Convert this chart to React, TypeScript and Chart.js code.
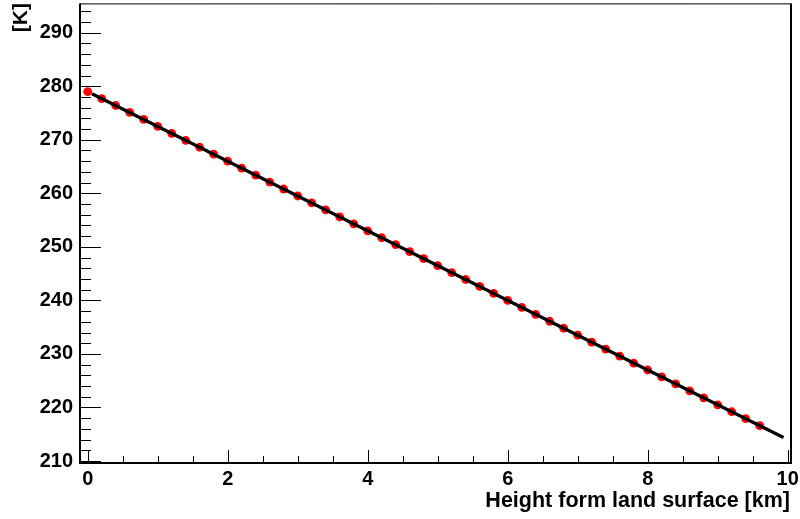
import React, { useEffect, useRef } from "react";
import { Chart, registerables } from "chart.js";

Chart.register(...registerables);

// Measured points: height above land surface [km] and temperature [K]
const heightsKm = [
  0.0, 0.2, 0.4, 0.6, 0.8, 1.0, 1.2, 1.4, 1.6, 1.8,
  2.0, 2.2, 2.4, 2.6, 2.8, 3.0, 3.2, 3.4, 3.6, 3.8,
  4.0, 4.2, 4.4, 4.6, 4.8, 5.0, 5.2, 5.4, 5.6, 5.8,
  6.0, 6.2, 6.4, 6.6, 6.8, 7.0, 7.2, 7.4, 7.6, 7.8,
  8.0, 8.2, 8.4, 8.6, 8.8, 9.0, 9.2, 9.4, 9.6,
];
const temperaturesK = [
  279.0, 277.7, 276.4, 275.1, 273.8, 272.5, 271.2, 269.9, 268.6, 267.3,
  266.0, 264.7, 263.4, 262.1, 260.8, 259.5, 258.2, 256.9, 255.6, 254.3,
  253.0, 251.7, 250.4, 249.1, 247.8, 246.5, 245.2, 243.9, 242.6, 241.3,
  240.0, 238.7, 237.4, 236.1, 234.8, 233.5, 232.2, 230.9, 229.6, 228.3,
  227.0, 225.7, 224.4, 223.1, 221.8, 220.5, 219.2, 217.9, 216.6,
];
// Fitted line end points
const fitHeightsKm = [0.06, 9.94];
const fitTemperaturesK = [278.6, 214.4];

const xTickLabels = [0, 2, 4, 6, 8, 10];
const yTickLabels = [210, 220, 230, 240, 250, 260, 270, 280, 290];

const xTitle = "Height form land surface [km]";
const yTitle = "[K]";

const X_MIN = -0.11;
const X_MAX = 10.047;
const Y_MIN = 209.63;
const Y_MAX = 295.28;

const FONT = "'Liberation Sans', Arial, Helvetica, sans-serif";

const rootFramePlugin = {
  id: "rootFrame",
  afterDraw(chart: any) {
    const { ctx, chartArea } = chart;
    const xs = chart.scales.x;
    const ys = chart.scales.y;
    const { left, right, top, bottom } = chartArea;
    ctx.save();
    ctx.strokeStyle = "#000";
    // ticks
    ctx.lineWidth = 1;
    ctx.beginPath();
    // y major every 10, minor every 2
    for (let v = 210; v <= Y_MAX; v += 2) {
      const p = Math.round(ys.getPixelForValue(v)) + 0.5;
      const len = v % 10 === 0 ? 21 : 11;
      ctx.moveTo(left, p);
      ctx.lineTo(left + len, p);
    }
    // x major every 2, minor every 0.5
    for (let i = 0; i <= 20; i++) {
      const v = i * 0.5;
      const p = Math.round(xs.getPixelForValue(v)) + 0.5;
      const len = i % 4 === 0 ? 13 : 7;
      ctx.moveTo(p, bottom);
      ctx.lineTo(p, bottom - len);
    }
    ctx.stroke();
    // frame
    ctx.lineWidth = 1;
    ctx.beginPath();
    ctx.moveTo(left, top - 0.5);
    ctx.lineTo(right, top - 0.5);
    ctx.stroke();
    ctx.lineWidth = 2;
    ctx.beginPath();
    ctx.moveTo(right, top - 1);
    ctx.lineTo(right, bottom + 1);
    ctx.moveTo(left, top - 1);
    ctx.lineTo(left, bottom + 1);
    ctx.moveTo(left - 1, bottom);
    ctx.lineTo(right + 1, bottom);
    ctx.stroke();
    // axis titles
    ctx.fillStyle = "#000";
    ctx.font = `bold 21.5px ${FONT}`;
    ctx.textAlign = "right";
    ctx.textBaseline = "alphabetic";
    ctx.fillText(xTitle, 790, 506.5);
    ctx.font = `bold 21px ${FONT}`;
    ctx.translate(27, 3);
    ctx.rotate(-Math.PI / 2);
    ctx.fillText(yTitle, 0, 0);
    ctx.restore();
  },
};

export default function App() {
  const canvasRef = useRef<HTMLCanvasElement | null>(null);

  useEffect(() => {
    const canvas = canvasRef.current;
    if (!canvas) return;
    const chart = new Chart(canvas, {
      type: "scatter",
      data: {
        datasets: [
          {
            label: "fit",
            data: fitHeightsKm.map((x, i) => ({ x, y: fitTemperaturesK[i] })),
            showLine: true,
            borderColor: "#000",
            borderWidth: 3.2,
            pointRadius: 0,
            fill: false,
          },
          {
            label: "data",
            data: heightsKm.map((x, i) => ({ x, y: temperaturesK[i] })),
            showLine: false,
            backgroundColor: "#ff0000",
            borderColor: "#ff0000",
            borderWidth: 0,
            pointRadius: 4.4,
          },
        ],
      },
      options: {
        animation: false,
        responsive: false,
        devicePixelRatio: 1,
        layout: { padding: { left: 0, top: 4, right: 9, bottom: 0 } },
        plugins: {
          legend: { display: false },
          tooltip: { enabled: false },
          title: { display: false },
        },
        scales: {
          x: {
            type: "linear",
            min: X_MIN,
            max: X_MAX,
            grid: { display: false, drawTicks: false },
            border: { display: false },
            afterBuildTicks: (scale: any) => {
              scale.ticks = xTickLabels.map((v) => ({ value: v }));
            },
            afterFit: (scale: any) => {
              scale.height = 56;
              scale.paddingLeft = 0;
              scale.paddingRight = 0;
            },
            ticks: {
              color: "#000",
              padding: 4,
              maxRotation: 0,
              autoSkip: false,
              font: { family: FONT, size: 20, weight: "bold" },
              callback: (v: any) => String(v),
            },
          },
          y: {
            type: "linear",
            min: Y_MIN,
            max: Y_MAX,
            grid: { display: false, drawTicks: false },
            border: { display: false },
            afterBuildTicks: (scale: any) => {
              scale.ticks = yTickLabels.map((v) => ({ value: v }));
            },
            afterFit: (scale: any) => {
              scale.width = 80;
              scale.paddingTop = 0;
              scale.paddingBottom = 0;
            },
            ticks: {
              color: "#000",
              padding: 7,
              autoSkip: false,
              font: { family: FONT, size: 20, weight: "bold" },
              callback: (v: any) => String(v),
            },
          },
        },
      },
      plugins: [rootFramePlugin],
    } as any);
    return () => chart.destroy();
  }, []);

  return (
    <div style={{ position: "fixed", left: 0, top: 0, width: 800, height: 519, background: "#fff" }}>
      <canvas ref={canvasRef} width={800} height={519} style={{ width: 800, height: 519, display: "block" }} />
    </div>
  );
}
